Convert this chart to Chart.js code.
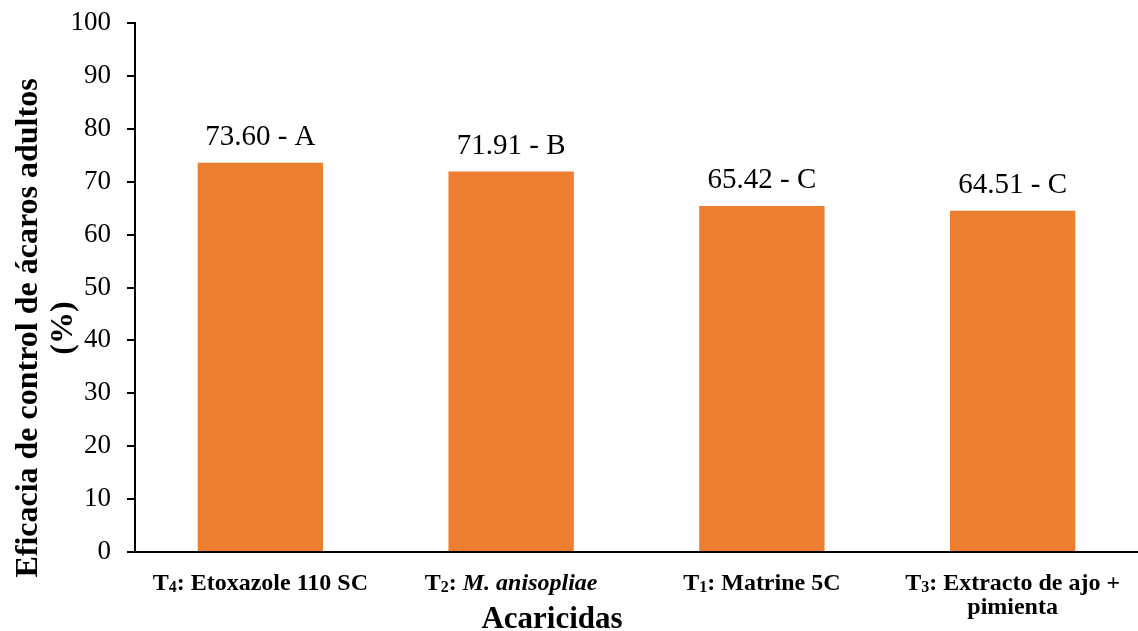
<!DOCTYPE html>
<html>
<head>
<meta charset="utf-8">
<title>Eficacia de control de ácaros adultos</title>
<script src="https://cdn.jsdelivr.net/npm/chart.js"></script>
<style>
    body {
        margin: 0;
        padding: 0;
        background: white;
    }

    .chart-container {
        position: relative;
        width: 1138px;
        height: 631px;
    }
</style>
</head>
<body>
<div class="chart-container">
    <canvas id="efficacyChart"></canvas>
</div>
<script>
    // data
    // "_4" = subscript, "*...*" = italic, "|" = line break
    const categories = ['T_4: Etoxazole 110 SC', 'T_2: *M. anisopliae*', 'T_1: Matrine 5C', 'T_3: Extracto de ajo +|pimienta'];
    const efficacy = [73.60, 71.91, 65.42, 64.51];
    const groups = ['A', 'B', 'C', 'C'];
    const yTicks = [0, 10, 20, 30, 40, 50, 60, 70, 80, 90, 100];
    const yTitle = ['Eficacia de control de ácaros adultos', '(%)'];
    const xTitle = 'Acaricidas';

    const SERIF = '"Liberation Serif", "Times New Roman", serif';
    const ORANGE = '#ED7D31';

    function parseLine(line) {
        const parts = [];
        const re = /_(\d)|\*([^*]+)\*|([^_*]+)/g;
        let m;
        while ((m = re.exec(line))) {
            if (m[1]) parts.push({ text: m[1], sub: true });
            else if (m[2]) parts.push({ text: m[2], italic: true });
            else parts.push({ text: m[3] });
        }
        return parts;
    }

    function partFont(p, size) {
        const s = p.sub ? Math.round(size * 0.68) : size;
        return (p.italic ? 'italic ' : '') + 'bold ' + s + 'px ' + SERIF;
    }

    // category labels with subscripts / italics
    const categoryLabels = {
        id: 'categoryLabels',
        afterDraw(chart) {
            const ctx = chart.ctx;
            const xScale = chart.scales.x;
            const size = 24;
            const firstBaseline = 590;
            const lineGap = 24;
            ctx.save();
            ctx.fillStyle = 'black';
            ctx.textBaseline = 'alphabetic';
            ctx.textAlign = 'left';
            categories.forEach((label, i) => {
                const cx = xScale.getPixelForValue(i);
                label.split('|').forEach((line, li) => {
                    const parts = parseLine(line);
                    let total = 0;
                    parts.forEach(p => {
                        ctx.font = partFont(p, size);
                        p.w = ctx.measureText(p.text).width;
                        total += p.w;
                    });
                    let x = cx - total / 2;
                    const y = firstBaseline + li * lineGap;
                    parts.forEach(p => {
                        ctx.font = partFont(p, size);
                        ctx.fillText(p.text, x, y + (p.sub ? size * 0.1 : 0));
                        x += p.w;
                    });
                });
            });
            ctx.restore();
        }
    };

    // value labels above bars
    const valueLabels = {
        id: 'valueLabels',
        afterDatasetsDraw(chart) {
            const ctx = chart.ctx;
            const meta = chart.getDatasetMeta(0);
            ctx.save();
            ctx.fillStyle = 'black';
            ctx.font = '29px ' + SERIF;
            ctx.textAlign = 'center';
            ctx.textBaseline = 'alphabetic';
            meta.data.forEach((bar, i) => {
                ctx.fillText(efficacy[i].toFixed(2) + ' - ' + groups[i], bar.x, bar.y - 18);
            });
            ctx.restore();
        }
    };

    // axis titles
    const axisTitles = {
        id: 'axisTitles',
        afterDraw(chart) {
            const ctx = chart.ctx;
            ctx.save();
            ctx.fillStyle = 'black';
            ctx.textAlign = 'center';
            ctx.textBaseline = 'alphabetic';
            ctx.font = 'bold 31px ' + SERIF;
            ctx.fillText(xTitle, 552, 628);

            ctx.font = 'bold 32px ' + SERIF;
            ctx.translate(0, 328);
            ctx.rotate(-Math.PI / 2);
            ctx.fillText(yTitle[0], 0, 37);
            ctx.fillText(yTitle[1], 0, 72);
            ctx.restore();
        }
    };

    new Chart(document.getElementById('efficacyChart').getContext('2d'), {
        type: 'bar',
        data: {
            labels: categories,
            datasets: [{
                data: efficacy,
                backgroundColor: ORANGE,
                borderWidth: 0,
                categoryPercentage: 1.0,
                barPercentage: 0.5
            }]
        },
        options: {
            responsive: true,
            maintainAspectRatio: false,
            animation: false,
            layout: {
                padding: { top: 23, right: 0, bottom: 0, left: 0 }
            },
            plugins: {
                legend: { display: false },
                tooltip: { enabled: false }
            },
            scales: {
                x: {
                    grid: { display: false },
                    border: { display: true, color: 'black', width: 2 },
                    ticks: { display: false },
                    afterFit(scale) { scale.height = 79; }
                },
                y: {
                    min: 0,
                    max: 100,
                    afterBuildTicks(scale) {
                        scale.ticks = yTicks.map(v => ({ value: v }));
                    },
                    grid: {
                        drawOnChartArea: false,
                        drawTicks: true,
                        tickLength: 8,
                        color: 'black',
                        lineWidth: 2
                    },
                    border: { display: true, color: 'black', width: 2 },
                    ticks: {
                        color: 'black',
                        padding: 16,
                        font: { family: SERIF, size: 27 }
                    },
                    afterFit(scale) {
                        scale.width = 135;
                        scale.paddingTop = 0;
                        scale.paddingBottom = 0;
                    }
                }
            }
        },
        plugins: [categoryLabels, valueLabels, axisTitles]
    });
</script>
</body>
</html>
